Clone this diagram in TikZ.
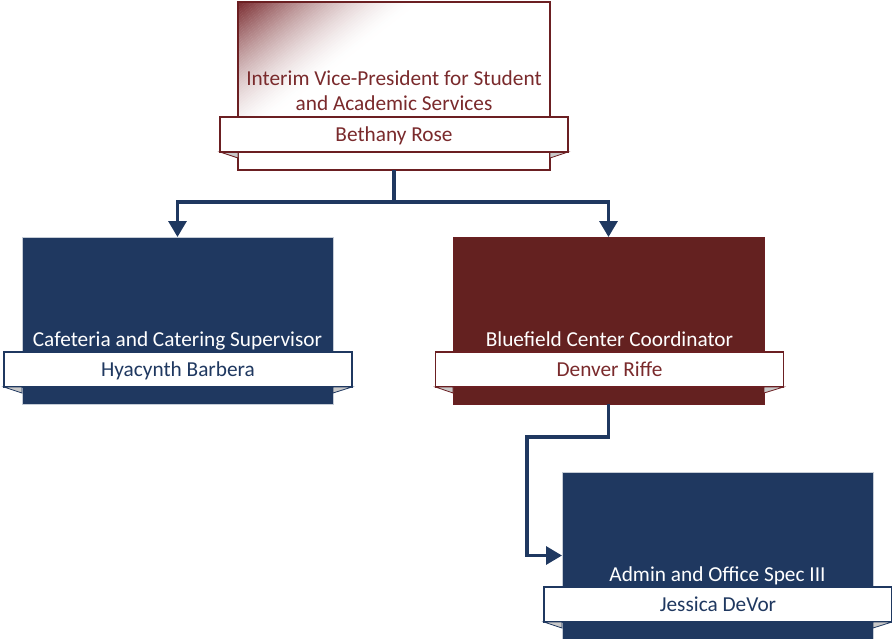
\documentclass[tikz,border=0pt]{standalone}
\usepackage{fontspec}
\setmainfont{Carlito}
\usetikzlibrary{arrows.meta}
\definecolor{navy}{HTML}{1F3860}
\definecolor{navyline}{HTML}{C5CCD6}
\definecolor{wine}{HTML}{642120}
\definecolor{wineline}{HTML}{6B1F22}
\definecolor{winetext}{HTML}{7A2A2C}
\definecolor{winedeep}{HTML}{7A2C30}
\definecolor{foldgray}{HTML}{C9C9C9}
\newcommand\mkfolds[3]{%
  \filldraw[fill=foldgray, draw=#3, line width=0.8pt]
    (#1.south west) -- (#2.west |- #1.south) -- ([yshift=-6pt]#2.west |- #1.south) -- cycle;
  \filldraw[fill=foldgray, draw=#3, line width=0.8pt]
    (#1.south east) -- (#2.east |- #1.south) -- ([yshift=-6pt]#2.east |- #1.south) -- cycle;
}
\tikzset{
  box/.style={line width=1pt, minimum width=311pt, minimum height=167pt, anchor=north west, inner sep=0pt, outer sep=0pt},
  navybox/.style={box, draw=navyline, fill=navy},
  winebox/.style={box, draw=wineline, fill=wine},
  tab/.style={draw, fill=white, line width=1.2pt, minimum width=348pt, minimum height=35pt, inner sep=0pt, outer sep=0pt,
    text height=14pt, text depth=0pt, font=\fontsize{21.3}{25}\selectfont},
  title/.style={font=\fontsize{21.3}{26}\selectfont, anchor=base, inner sep=0pt},
  connline/.style={draw=navy, line width=3.2pt},
  conn/.style={connline, -{Triangle[width=18pt,length=16pt]}},
}
\begin{document}
\begin{tikzpicture}[x=1pt,y=-1pt]
\useasboundingbox (0,0) rectangle (892,638);
% top box
\node[box, draw=wineline, fill=white, minimum width=312pt, minimum height=168pt, line width=1.5pt] (vp) at (238,2) {};
\begin{scope}
  \clip (238,2) rectangle (550,170);
  \foreach \k in {0,...,49}{
    \pgfmathsetmacro\mix{100*(1-\k/50)^1.6}
    \fill[winedeep!\mix!white] (238+3.6*\k,2) -- (238+3.6*\k+4.2,2) -- (238,2+2.8*\k+3.2) -- (238,2+2.8*\k) -- cycle;
  }
\end{scope}
\draw[wineline, line width=1.5pt] (vp.north west) rectangle (vp.south east);
\node[title, text=winetext] (vpt1) at (394,85) {Interim Vice-President for Student};
\node[title, text=winetext] (vpt2) at (394,110.5) {and Academic Services};
\node[tab, draw=wineline, text=winetext] (vpn) at (394,134.5) {Bethany Rose};
\mkfolds{vpn}{vp}{wineline}
\node[tab, draw=wineline, text=winetext] at (vpn) {Bethany Rose};

% left box
\node[navybox] (cafe) at (22,237) {};
\node[title, text=white] (cafet) at (177.5,346) {Cafeteria and Catering Supervisor};
\node[tab, draw=navy, text=navy] (cafen) at (178,369.5) {Hyacynth Barbera};
\mkfolds{cafen}{cafe}{navy}

% right box
\node[winebox] (blue) at (453,237) {};
\node[title, text=white] (bluet) at (609.5,346) {Bluefield Center Coordinator};
\node[tab, draw=wineline, text=winetext] (bluen) at (609.5,369.5) {Denver Riffe};
\mkfolds{bluen}{blue}{wineline}

% bottom box
\node[navybox] (adm) at (562,472) {};
\node[title, text=white] (admt) at (717.5,581) {Admin and Office Spec III};
\node[tab, draw=navy, text=navy] (admn) at (718,604.5) {Jessica DeVor};
\mkfolds{admn}{adm}{navy}

% connectors
\coordinate (j1) at (vp.south |- 0,202);
\draw[connline] (vp.south) -- (j1);
\draw[connline] (cafe.north |- j1) -- (blue.north |- j1);
\draw[conn] (j1) -| (cafe.north);
\draw[conn] (j1) -| (blue.north);
\coordinate (j2) at (527,437);
\draw[conn] (blue.south) |- (j2) |- (adm.west);
\end{tikzpicture}
\end{document}
